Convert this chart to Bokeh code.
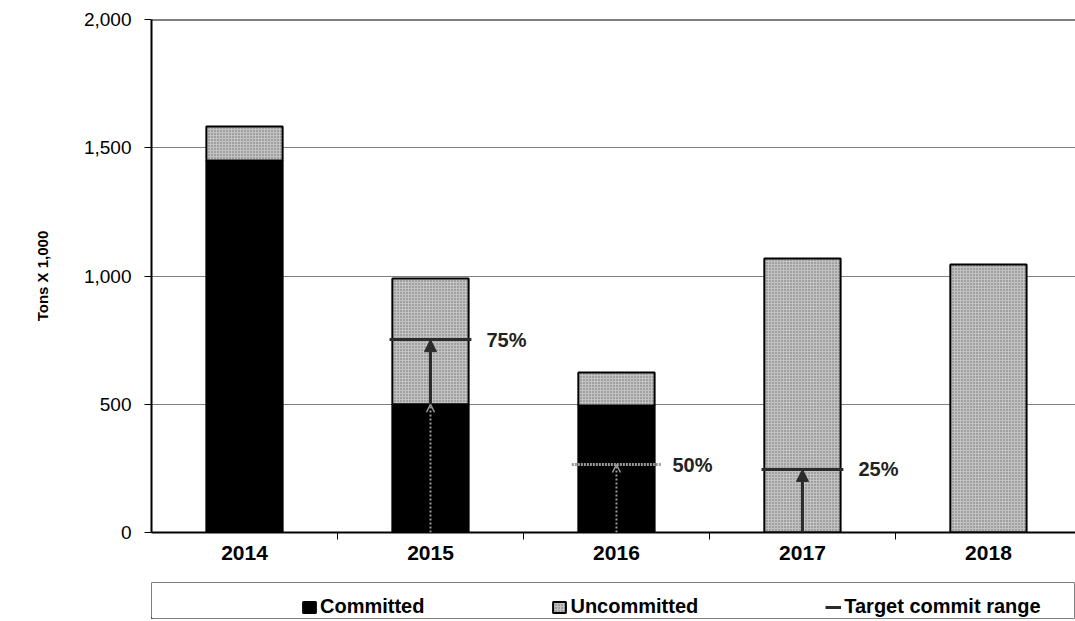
from bokeh.plotting import figure
from bokeh.layouts import column
from bokeh.models import (Range1d, FixedTicker, NumeralTickFormatter, ColumnDataSource,
                          Legend, LegendItem, Arrow, NormalHead, OpenHead, Span)
from bokeh.core.properties import value
from bokeh.embed import file_html
from bokeh.resources import INLINE

# ---- data ----
years = ["2014", "2015", "2016", "2017", "2018"]
committed = [1450, 500, 495, 0, 0]
uncommitted = [133, 490, 129, 1068, 1045]
target = [None, 752, 265, 246, None]
target_labels = ["", "75%", "50%", "25%", ""]
y_ticks = [0, 500, 1000, 1500, 2000]
y_label = "Tons X 1,000"
legend_labels = ["Committed", "Uncommitted", "Target commit range"]

FONT = "Liberation Sans"
DARK = "#2b2b2b"
GREYDOT = "#9a9a9a"
BAR_GREY = dict(fill_color="#c2c2c2", hatch_pattern="dot", hatch_color="#6e6e6e",
                hatch_scale=3, hatch_weight=1, line_color="black", line_width=2)
BAR_BLACK = dict(fill_color="black", line_color="black", line_width=2)

idx = list(range(len(years)))
tops = [c + u for c, u in zip(committed, uncommitted)]

p = figure(width=1075, height=573, output_backend="svg", toolbar_location=None,
           x_range=Range1d(-0.5, 4.468), y_range=Range1d(y_ticks[0], y_ticks[-1]),
           min_border_left=151, min_border_top=19, min_border_right=0, min_border_bottom=41)
p.outline_line_color = None
p.background_fill_color = "white"
p.border_fill_color = "white"
p.xgrid.grid_line_color = None
p.ygrid.grid_line_color = "#808080"
p.ygrid.grid_line_width = 1

# bars
bw = 0.41
p.vbar(x=idx, width=bw, bottom=0, top=committed, **BAR_BLACK)
p.vbar(x=idx, width=bw, bottom=committed, top=tops, **BAR_GREY)

# top border
p.add_layout(Span(location=y_ticks[-1], dimension="width", line_color="black", line_width=2))

# target lines and arrows
tgt_idx = [i for i, t in enumerate(target) if t is not None]
dark_rows = [i for i in tgt_idx if target[i] > committed[i]]
onblack_rows = [i for i in tgt_idx if target[i] <= committed[i]]
grey_rows = [i for i in tgt_idx if committed[i] > 0]

hw = 0.22
dark_src = ColumnDataSource(dict(
    x=dark_rows,
    x0=[i - hw for i in dark_rows], x1=[i + hw for i in dark_rows],
    y0=[committed[i] for i in dark_rows], y=[target[i] for i in dark_rows]))
black_src = ColumnDataSource(dict(
    x0=[i - hw - 0.02 for i in onblack_rows], x1=[i + hw + 0.02 for i in onblack_rows],
    y=[target[i] for i in onblack_rows]))
grey_src = ColumnDataSource(dict(
    x=grey_rows, y0=[0 for i in grey_rows],
    y1=[min(committed[i], target[i]) for i in grey_rows]))

p.add_layout(Arrow(end=OpenHead(size=8, line_color=GREYDOT, line_width=1.5),
                   x_start="x", y_start="y0", x_end="x", y_end="y1", source=grey_src,
                   line_color=GREYDOT, line_width=2, line_dash="2 2"))
p.add_layout(Arrow(end=NormalHead(size=12, fill_color=DARK, line_color=DARK),
                   x_start="x", y_start="y0", x_end="x", y_end="y", source=dark_src,
                   line_color=DARK, line_width=3))
p.segment(x0="x0", y0="y", x1="x1", y1="y", source=dark_src, line_color=DARK, line_width=3)
p.segment(x0="x0", y0="y", x1="x1", y1="y", source=black_src,
          line_color=GREYDOT, line_width=3, line_dash="2 1")

lab_src = ColumnDataSource(dict(x=tgt_idx, y=[target[i] for i in tgt_idx],
                                t=[target_labels[i] for i in tgt_idx]))
p.text(x="x", y="y", text="t", source=lab_src, x_offset=56, text_baseline="middle",
       text_align="left", text_font=value(FONT), text_font_size="20px",
       text_font_style="bold", text_color="#222222")

# x axis
xa = p.xaxis[0]
xa.ticker = FixedTicker(ticks=idx, minor_ticks=[i + 0.5 for i in idx[:-1]])
xa.major_label_overrides = {i: y for i, y in zip(idx, years)}
xa.major_tick_line_color = None
xa.major_tick_out = 6
xa.major_tick_in = 0
xa.minor_tick_line_color = "black"
xa.minor_tick_out = 7
xa.minor_tick_in = 0
xa.axis_line_color = "black"
xa.axis_line_width = 2
xa.major_label_text_font = FONT
xa.major_label_text_font_size = "21px"
xa.major_label_text_font_style = "bold"
xa.major_label_text_color = "black"
xa.major_label_standoff = 6

# y axis
ya = p.yaxis[0]
ya.ticker = FixedTicker(ticks=y_ticks)
ya.formatter = NumeralTickFormatter(format="0,0")
ya.major_tick_out = 7
ya.major_tick_in = 0
ya.major_tick_line_color = "black"
ya.minor_tick_line_color = None
ya.axis_line_color = "black"
ya.axis_line_width = 2
ya.major_label_text_font = FONT
ya.major_label_text_font_size = "19px"
ya.major_label_text_color = "black"
ya.major_label_standoff = 13
ya.axis_label = y_label
ya.axis_label_text_font = FONT
ya.axis_label_text_font_size = "15px"
ya.axis_label_text_font_style = "bold"
ya.axis_label_text_color = "black"
ya.axis_label_standoff = 30

# legend strip (its frame outline is the legend box); proxy glyphs sit off-range
lf = figure(width=1075, height=48, output_backend="svg", toolbar_location=None,
            x_axis_type=None, y_axis_type=None, x_range=Range1d(0, 1), y_range=Range1d(0, 1),
            min_border_left=148, min_border_right=0, min_border_top=9, min_border_bottom=3)
lf.outline_line_color = "#808080"
lf.outline_line_width = 1
lf.background_fill_color = "white"
lf.border_fill_color = "white"
lr_c = lf.vbar(x=[-5], top=[-5], bottom=[-6], width=0.1, **BAR_BLACK)
lr_u = lf.vbar(x=[-5], top=[-5], bottom=[-6], width=0.1, **BAR_GREY)
lr_t = lf.line(x=[-6, -5], y=[-5, -5], line_color=DARK, line_width=3)

legend = Legend(items=[LegendItem(label=legend_labels[0], renderers=[lr_c]),
                       LegendItem(label=legend_labels[1], renderers=[lr_u]),
                       LegendItem(label=legend_labels[2], renderers=[lr_t])],
                orientation="horizontal", location=(150, 0), spacing=127,
                glyph_width=16, glyph_height=14, label_standoff=3, padding=6, margin=0,
                label_text_font=FONT, label_text_font_size="20px",
                label_text_font_style="bold", label_text_color="black",
                border_line_color=None, background_fill_alpha=0)
lf.add_layout(legend, "center")

open("out.html", "w").write(file_html(column(p, lf, spacing=0), INLINE))
